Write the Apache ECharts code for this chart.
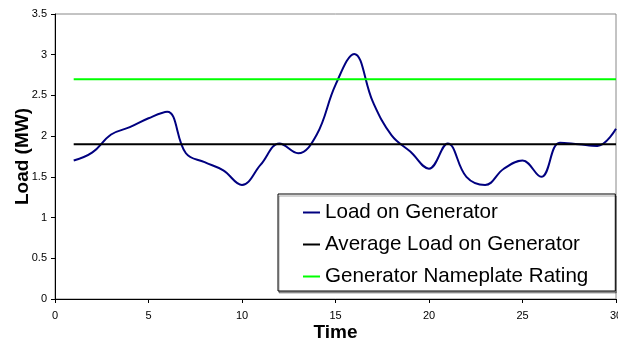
<!DOCTYPE html>
<html>
<head>
<meta charset="utf-8">
<script src="https://cdn.jsdelivr.net/npm/echarts@6/dist/echarts.min.js"></script>
<style>
  html, body { margin: 0; padding: 0; background: #fff; }
  #chart { width: 618px; height: 341px; }
</style>
</head>
<body>
<div id="chart"></div>
<script>
var times = [1, 2, 3, 4, 5, 6, 7, 8, 9, 10, 11, 12, 13, 14, 15, 16, 17, 18, 19, 20, 21, 22, 23, 24, 25, 26, 27, 28, 29, 30];
var load = [1.70, 1.80, 2.02, 2.11, 2.22, 2.30, 1.79, 1.68, 1.58, 1.40, 1.65, 1.91, 1.79, 2.02, 2.63, 3.01, 2.42, 2.01, 1.81, 1.60, 1.91, 1.50, 1.40, 1.60, 1.70, 1.50, 1.92, 1.90, 1.88, 2.09];
var averageLoad = 1.9;
var nameplate = 2.7;
var names = ['Load on Generator', 'Average Load on Generator', 'Generator Nameplate Rating'];

var chart = echarts.init(document.getElementById('chart'));

function flat(v) {
    return [[times[0], v], [times[times.length - 1], v]];
}

var font = 'Arial, "Liberation Sans", sans-serif';

chart.setOption({
    animation: false,
    grid: {
        left: 55, right: 2, top: 14, bottom: 42,
        outerBoundsMode: 'none',
        show: true, borderColor: '#888', borderWidth: 1
    },
    xAxis: {
        type: 'value', min: 0, max: 30, interval: 5,
        name: 'Time', nameLocation: 'middle', nameGap: 24, nameMoveOverlap: false,
        nameTextStyle: { fontFamily: font, fontSize: 19, fontWeight: 'bold', color: '#000' },
        axisLine: { lineStyle: { color: '#000', width: 1 } },
        axisTick: { show: true, length: 4, lineStyle: { color: '#000' } },
        axisLabel: { fontFamily: font, fontSize: 11, color: '#000', margin: 11 },
        splitLine: { show: false }
    },
    yAxis: {
        type: 'value', min: 0, max: 3.5, interval: 0.5,
        name: 'Load (MW)', nameLocation: 'middle', nameGap: 23, nameMoveOverlap: false,
        nameTextStyle: { fontFamily: font, fontSize: 19, fontWeight: 'bold', color: '#000' },
        axisLine: { show: true, lineStyle: { color: '#000', width: 1 } },
        axisTick: { show: true, length: 4, lineStyle: { color: '#000' } },
        axisLabel: { fontFamily: font, fontSize: 11, color: '#000', margin: 8 },
        splitLine: { show: false }
    },
    legend: {
        data: names,
        orient: 'vertical',
        left: 278, top: 194,
        padding: [8, 27, 4, 25],
        borderColor: '#000', borderWidth: 1,
        backgroundColor: '#fff',
        shadowColor: 'rgba(0,0,0,0.35)', shadowOffsetX: 1, shadowOffsetY: 2, shadowBlur: 0,
        icon: 'rect', itemWidth: 17, itemHeight: 2, itemGap: 11,
        textStyle: { fontFamily: font, fontSize: 20.6, color: '#000' }
    },
    series: [
        {
            name: names[0], type: 'line', smooth: 0.4, showSymbol: false,
            data: times.map(function (t, i) { return [t, load[i]]; }),
            lineStyle: { color: '#000080', width: 2 }, itemStyle: { color: '#000080' }
        },
        {
            name: names[1], type: 'line', showSymbol: false,
            data: flat(averageLoad),
            lineStyle: { color: '#000000', width: 2 }, itemStyle: { color: '#000000' }
        },
        {
            name: names[2], type: 'line', showSymbol: false,
            data: flat(nameplate),
            lineStyle: { color: '#00ff00', width: 2 }, itemStyle: { color: '#00ff00' }
        }
    ]
});
</script>
</body>
</html>
